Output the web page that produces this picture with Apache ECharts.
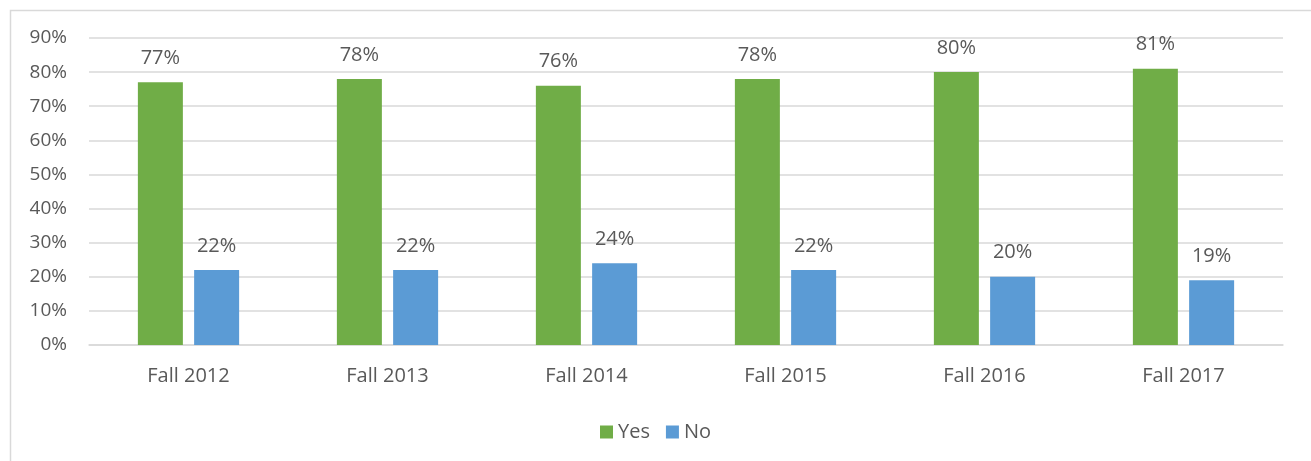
<!DOCTYPE html>
<html>
<head>
<meta charset="utf-8">
<script src="https://cdn.jsdelivr.net/npm/echarts@6/dist/echarts.min.js"></script>
<style>html,body{margin:0;padding:0;background:#fff;}#c{width:1311px;height:461px;}</style>
</head>
<body>
<div id="c"></div>
<script>
const categories = ['Fall 2012', 'Fall 2013', 'Fall 2014', 'Fall 2015', 'Fall 2016', 'Fall 2017'];
const yesValues = [77, 78, 76, 78, 80, 81];
const noValues = [22, 22, 24, 22, 20, 19];
const seriesNames = ['Yes', 'No'];

const font = "'Open Sans', 'Liberation Sans', sans-serif";
const textColor = '#595959';
const chart = echarts.init(document.getElementById('c'), null, {renderer: 'canvas'});
const labelCfg = {show: true, position: 'top', distance: 14, color: textColor, fontSize: 20, fontFamily: font, formatter: p => p.value + '%'};
chart.setOption({
  animation: false,
  graphic: [{type: 'rect', left: 8, top: 8, shape: {width: 1330, height: 480}, style: {fill: 'none', stroke: '#d9d9d9', lineWidth: 1.5}, silent: true}],
  grid: {left: 89, right: 28, top: 38, bottom: 116, containLabel: false},
  legend: {bottom: 14, left: 'center', itemWidth: 13, itemHeight: 13, itemGap: 16, icon: 'rect',
    textStyle: {color: textColor, fontSize: 20, fontFamily: font}, data: seriesNames},
  xAxis: {type: 'category', data: categories,
    axisLine: {lineStyle: {color: '#d9d9d9', width: 1.5}}, axisTick: {show: false},
    axisLabel: {color: textColor, fontSize: 20, fontFamily: font, margin: 21}},
  yAxis: {type: 'value', min: 0, max: 90, interval: 10,
    axisLine: {show: false}, axisTick: {show: false},
    splitLine: {lineStyle: {color: '#d9d9d9', width: 1.5}},
    axisLabel: {color: textColor, fontSize: 19, fontFamily: font, margin: 22, formatter: v => v + '%'}},
  series: [
    {name: seriesNames[0], type: 'bar', data: yesValues, itemStyle: {color: '#70AD47'}, barWidth: 45, barGap: '25%', label: labelCfg},
    {name: seriesNames[1], type: 'bar', data: noValues, itemStyle: {color: '#5B9BD5'}, barWidth: 45, label: labelCfg}
  ]
});
</script>
</body>
</html>
